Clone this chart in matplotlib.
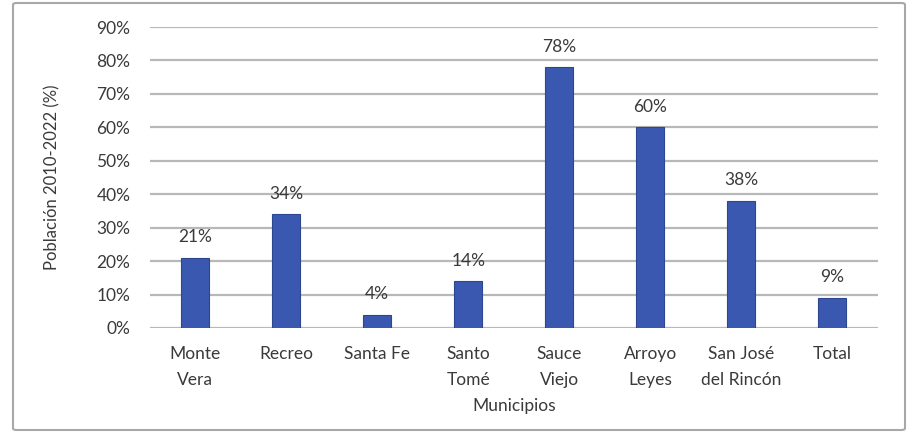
import matplotlib
matplotlib.use("Agg")
import matplotlib.pyplot as plt
from matplotlib.patches import FancyBboxPatch
from matplotlib.ticker import FuncFormatter

plt.rcParams['font.family'] = ['Lato', 'DejaVu Sans']

municipios = ['Monte\nVera', 'Recreo', 'Santa Fe', 'Santo\nTomé', 'Sauce\nViejo',
              'Arroyo\nLeyes', 'San José\ndel Rincón', 'Total']
crecimiento = [0.21, 0.34, 0.04, 0.14, 0.78, 0.60, 0.38, 0.09]
etiquetas = ['21%', '34%', '4%', '14%', '78%', '60%', '38%', '9%']
yticks = [0, 0.1, 0.2, 0.3, 0.4, 0.5, 0.6, 0.7, 0.8, 0.9]

text_color = '#3a3a3a'
bar_color = '#3a58b0'
grid_color = '#b8b8b8'

fig = plt.figure(figsize=(9.19, 4.33), dpi=100)
ax = fig.add_axes([0.163, 0.2425, 0.792, 0.6951])

# outer chart border
border = FancyBboxPatch((13 / 919, 3 / 433), 892 / 919, 427 / 433,
                        boxstyle='round,pad=0,rounding_size=0.004',
                        transform=fig.transFigure, fill=False,
                        edgecolor='#a8a8a8', linewidth=1.5)
fig.patches.append(border)

x = range(len(municipios))
bars = ax.bar(x, crecimiento, width=0.31, color=bar_color,
              edgecolor='#2c4690', linewidth=0.8, zorder=3)

for rect, lab in zip(bars, etiquetas):
    ax.annotate(lab, (rect.get_x() + rect.get_width() / 2, rect.get_height()),
                xytext=(0, 9), textcoords='offset points', ha='center',
                va='bottom', fontsize=12.5, color=text_color)

ax.set_xlim(-0.5, len(municipios) - 0.5)
ax.set_ylim(0, 0.9)
ax.set_yticks(yticks)
ax.yaxis.set_major_formatter(FuncFormatter(lambda v, p: f'{v * 100:.0f}%'))
ax.set_xticks(list(x))
ax.set_xticklabels(municipios, fontsize=12.5, color=text_color, linespacing=1.75)
ax.tick_params(axis='y', labelsize=12.5, labelcolor=text_color, length=0, pad=14)
ax.tick_params(axis='x', length=0, pad=13)
ax.grid(axis='y', color=grid_color, linewidth=1.6, zorder=0)
for s in ax.spines.values():
    s.set_visible(False)

ax.set_xlabel('Municipios', fontsize=12.5, color=text_color, labelpad=7)
ax.set_ylabel('Población 2010-2022 (%)', fontsize=12, color=text_color, labelpad=26)

fig.savefig('out.png', dpi=100, facecolor='white')
